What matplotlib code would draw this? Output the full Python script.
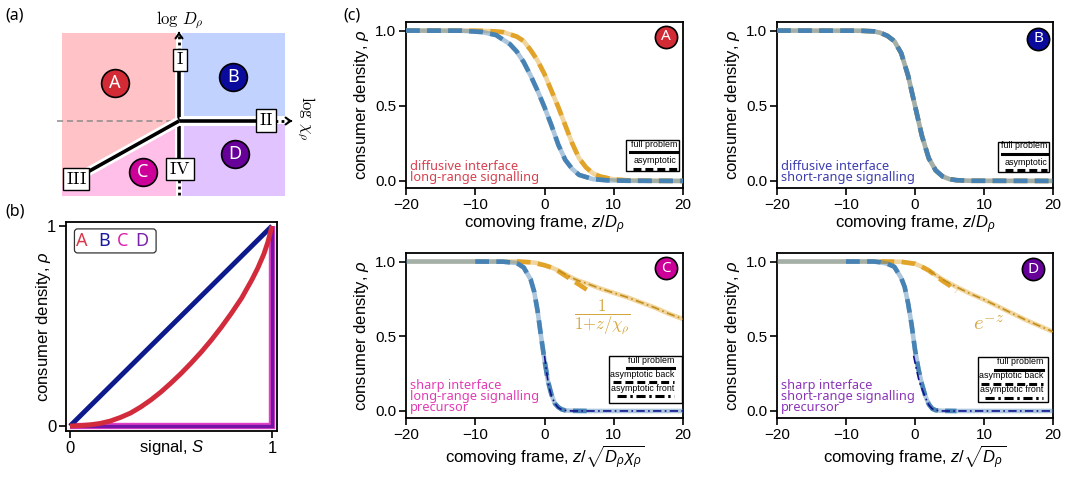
import matplotlib.pyplot as plt
import matplotlib.patches as mpatches
import matplotlib.patheffects as pe
from matplotlib.ticker import FormatStrFormatter
import numpy as np

plt.rcParams['font.family'] = ['Liberation Sans', 'DejaVu Sans']
plt.rcParams['mathtext.fontset'] = 'custom'
plt.rcParams['mathtext.rm'] = 'Liberation Sans'
plt.rcParams['mathtext.it'] = 'Liberation Sans:italic'
plt.rcParams['mathtext.bf'] = 'Liberation Sans:bold'

# ---------------- data ----------------
# (b) response functions rho(S)
S_lin = [0, 1]
rho_lin = [0, 1]
S_A = [0, 0.05, 0.1, 0.15, 0.2, 0.25, 0.3, 0.35, 0.4, 0.45, 0.5, 0.55, 0.6, 0.65, 0.7,
       0.75, 0.8, 0.85, 0.9, 0.93, 0.96, 0.98, 1.0]
rho_A = [0, 0.002, 0.006, 0.013, 0.025, 0.043, 0.065, 0.095, 0.13, 0.17, 0.215, 0.263,
         0.315, 0.37, 0.43, 0.495, 0.565, 0.64, 0.73, 0.79, 0.86, 0.92, 1.0]
S_step = [0, 1, 1]
rho_step = [0, 0, 1]

# (c) panel A
zA_bl = [-20, -12, -9, -7, -5, -4, -3, -2, -1, 0, 1, 2, 3, 4, 5, 7, 9, 12, 20]
rA_bl = [1.0, 0.999, 0.99, 0.97, 0.91, 0.86, 0.79, 0.70, 0.60, 0.49, 0.37, 0.24, 0.14, 0.08, 0.04, 0.012, 0.004, 0.001, 0.0]
zA_or = [-20, -10, -8, -6, -4, -3, -2, -1, 0, 1, 2, 3, 4, 5, 6, 7, 8, 10, 12, 15, 20]
rA_or = [1.0, 0.999, 0.997, 0.99, 0.96, 0.93, 0.87, 0.80, 0.71, 0.60, 0.49, 0.37, 0.25, 0.15, 0.09, 0.05, 0.03, 0.01, 0.004, 0.001, 0.0]

# (c) panel B (both profiles coincide)
zB = [-20, -8, -6, -5, -4, -3, -2, -1, 0, 1, 2, 3, 4, 5, 6, 8, 20]
rB_bl = [1.0, 0.999, 0.995, 0.985, 0.965, 0.93, 0.85, 0.70, 0.50, 0.30, 0.15, 0.07, 0.03, 0.012, 0.005, 0.001, 0.0]
rB_or = [1.0, 0.999, 0.995, 0.985, 0.965, 0.93, 0.85, 0.70, 0.50, 0.30, 0.15, 0.07, 0.03, 0.012, 0.005, 0.001, 0.0]

# (c) panel C
zC_bl = [-20, -10, -6, -4, -3, -2, -1.5, -1, -0.5, 0, 0.5, 1, 1.5, 2, 2.5, 3, 4, 6.5, 20]
rC_bl = [1, 1, 0.999, 0.99, 0.96, 0.88, 0.80, 0.67, 0.50, 0.34, 0.20, 0.11, 0.05, 0.025, 0.01, 0.004, 0.001, 0, 0]
zC_bl_front = [0.0, 0.3, 0.6, 1.0, 1.5, 2.0, 2.5, 3.0, 4.0, 20]
rC_bl_front = [0.37, 0.26, 0.17, 0.10, 0.05, 0.022, 0.009, 0.004, 0.0, 0.0]
zC_or = [-20, -4, -2, -1, 0, 1, 2, 3, 4, 5, 6, 8, 10, 12, 14, 16, 18, 20]
rC_or = [1, 1, 0.995, 0.99, 0.975, 0.96, 0.94, 0.915, 0.89, 0.87, 0.855, 0.82, 0.79, 0.76, 0.725, 0.69, 0.65, 0.615]
zC_or_back = [-4, -2, 0, 1, 2, 3, 4, 5, 6, 6.5]
rC_or_back = [1, 0.995, 0.975, 0.96, 0.935, 0.905, 0.875, 0.845, 0.815, 0.80]

# (c) panel D
zD_bl = [-20, -10, -6, -5, -4, -3, -2, -1.5, -1, -0.5, 0, 0.5, 1, 1.5, 2, 2.5, 3, 4, 6, 20]
rD_bl = [1, 1, 1, 0.995, 0.985, 0.965, 0.89, 0.83, 0.72, 0.58, 0.41, 0.28, 0.18, 0.10, 0.045, 0.015, 0.005, 0.001, 0, 0]
zD_bl_front = [-0.2, 0.2, 0.6, 1.0, 1.5, 2.0, 2.5, 3.0, 4.0, 20]
rD_bl_front = [0.37, 0.28, 0.20, 0.15, 0.09, 0.04, 0.014, 0.005, 0.0, 0.0]
zD_or = [-20, -4, -2, 0, 1, 2, 3, 4, 5, 6, 8, 10, 12, 14, 16, 18, 20]
rD_or = [1, 1, 0.998, 0.985, 0.965, 0.94, 0.91, 0.88, 0.855, 0.83, 0.785, 0.745, 0.70, 0.655, 0.61, 0.57, 0.53]
zD_or_back = [-5, -2, 0, 1, 2, 3, 4, 5, 6]
rD_or_back = [1, 0.998, 0.985, 0.965, 0.94, 0.905, 0.87, 0.84, 0.80]

# ranges of the asymptotic approximations
back_C = (-10, 6.5)
back_D = (-10, 6.0)
front_start = 2.0

BLUE = '#4682b4'
GOLD = '#e2a329'
NAVY = '#12128e'
DGOLD = '#c28e1c'
LW = 3.3


def full_line(ax, z, r, c, zo):
    ax.plot(z, r, color=c, alpha=0.45, lw=LW, solid_capstyle='butt', zorder=zo)


def back_line(ax, z, r, c, zo):
    ax.plot(z, r, color=c, lw=LW, ls=(0, (3.0, 1.6)), dash_capstyle='butt', zorder=zo)


def front_line(ax, z, r, c):
    ax.plot(z, r, color=c, lw=1.2, ls=(0, (5, 2, 1, 2)), zorder=7)


def in_range(z, r, lo, hi):
    z = np.asarray(z, float)
    r = np.asarray(r, float)
    m = (z >= lo) & (z <= hi)
    return z[m], r[m]


def style_c(ax, xlabel):
    ax.set_xlim(-20, 20)
    ax.set_ylim(-0.047, 1.057)
    ax.set_xticks([-20, -10, 0, 10, 20])
    ax.set_yticks([0, 0.5, 1.0])
    ax.yaxis.set_major_formatter(FormatStrFormatter('%.1f'))
    ax.tick_params(direction='out', length=5, width=1.2, labelsize=11, pad=2)
    for s in ax.spines.values():
        s.set_linewidth(1.3)
    ax.set_xlabel(xlabel, fontsize=12, labelpad=1)
    ax.set_ylabel(r'consumer density, $\rho$', fontsize=12, labelpad=3)


def badge(ax, x, y, letter, color, ms=16, fs=11, transform=None):
    tr = ax.transAxes if transform is None else transform
    ax.plot([x], [y], 'o', transform=tr, ms=ms, mfc=color, mec='black', mew=1.2,
            clip_on=False, zorder=10)
    ax.text(x, y, letter, transform=tr, color='white', ha='center', va='center',
            fontsize=fs, family='Noto Sans', zorder=11)


def key_box(ax, box, entries, right, top, pitch):
    x0, y0, w, h = box
    ax.add_patch(mpatches.Rectangle((x0, y0), w, h, transform=ax.transAxes, fc='white',
                                    ec='black', lw=1.0, zorder=8))
    for i, (label, ls, xs) in enumerate(entries):
        yt = top - i * pitch
        ax.text(right, yt, label, transform=ax.transAxes, ha='right', va='baseline',
                fontsize=6.4, zorder=9)
        ax.plot([xs, right], [yt - 0.033, yt - 0.033], transform=ax.transAxes, color='black',
                lw=2.2, ls=ls, dash_capstyle='butt', zorder=9)


def note(ax, txt, color):
    ax.text(-19.4, -0.02, txt, ha='left', va='bottom', color=color, fontsize=9.2,
            family='Noto Sans', linespacing=0.8, zorder=9)


fig = plt.figure(figsize=(10.67, 5.01), dpi=100)

# ---------------- (a) phase diagram ----------------
ax_a = fig.add_axes([0, 1 - 215 / 501, 330 / 1067, 215 / 501])
ax_a.set_xlim(0, 330)
ax_a.set_ylim(215, 0)
ax_a.axis('off')
ax_a.add_patch(mpatches.Rectangle((62, 33), 114, 163, fc='#ffc2c6', ec='none'))
ax_a.add_patch(mpatches.Polygon([(62, 185.7), (176, 122.7), (176, 196), (62, 196)],
                                fc='#ffbfe9', ec='none'))
ax_a.add_patch(mpatches.Rectangle((182, 33), 103, 83, fc='#c2d2ff', ec='none'))
ax_a.add_patch(mpatches.Rectangle((182, 124), 103, 72, fc='#e1c4ff', ec='none'))
ax_a.plot([57, 177], [121, 121], color='#8c8c8c', lw=1.1, ls=(0, (4, 2.5)))
stroke = [pe.Stroke(linewidth=6.5, foreground='white'), pe.Normal()]
for xs, ys in [([179, 179], [60, 170]), ([179, 266], [121, 121]), ([179, 76], [121, 178.5])]:
    ax_a.plot(xs, ys, color='black', lw=2.6, solid_capstyle='butt', path_effects=stroke)
ax_a.plot([179, 179], [36, 49], color='black', lw=2, ls=(0, (1, 1.2)))
ax_a.plot([179, 179], [180, 197], color='black', lw=2, ls=(0, (1, 1.2)))
ax_a.plot([275, 288], [121, 121], color='black', lw=2, ls=(0, (1, 1.2)))
ax_a.annotate('', xy=(179, 29), xytext=(179, 36),
              arrowprops=dict(arrowstyle='->,head_length=0.35,head_width=0.25', lw=1.5, color='black'))
ax_a.annotate('', xy=(295, 121), xytext=(288, 121),
              arrowprops=dict(arrowstyle='->,head_length=0.35,head_width=0.25', lw=1.5, color='black'))
for lab, (x, y) in [('I', (180, 60)), ('II', (266, 120.5)), ('III', (76, 179)), ('IV', (180, 169))]:
    ax_a.text(x, y, r'$\mathrm{%s}$' % lab, math_fontfamily='cm', fontsize=13, ha='center',
              va='center', bbox=dict(boxstyle='square,pad=0.15', fc='white', ec='black', lw=1.0))
ax_a.text(180, 20, r'$\log\, D_\rho$', math_fontfamily='cm', fontsize=12, ha='center', va='center')
ax_a.text(306, 118, r'$\log\, \chi_\rho$', math_fontfamily='cm', fontsize=12, ha='center',
          va='center', rotation=-90)
for lab, col, (x, y) in [('A', '#d22b36', (115, 83)), ('B', '#0a0a9c', (233, 77)),
                         ('C', '#cc0099', (143, 172)), ('D', '#660099', (235, 154))]:
    badge(ax_a, x, y, lab, col, ms=20, fs=13, transform=ax_a.transData)

# ---------------- (b) response functions ----------------
ax_b = fig.add_axes([66 / 1067, 1 - 431 / 501, 211 / 1067, 209 / 501])
ax_b.plot(S_step, rho_step, color='#e040c8', lw=4.6, solid_capstyle='butt', solid_joinstyle='miter')
ax_b.plot(S_step, rho_step, color='#7414a4', lw=2.4, solid_capstyle='butt', solid_joinstyle='miter')
ax_b.plot(S_lin, rho_lin, color='#0d1a8c', lw=3.5, solid_capstyle='butt')
ax_b.plot(S_A, rho_A, color='#d22b3c', lw=3.5, solid_capstyle='butt')
ax_b.set_xlim(-0.02, 1.025)
ax_b.set_ylim(-0.025, 1.02)
ax_b.set_xticks([0, 1])
ax_b.set_yticks([0, 1])
ax_b.tick_params(direction='out', length=5, width=1.2, labelsize=12, pad=2)
for s in ax_b.spines.values():
    s.set_linewidth(1.3)
ax_b.set_xlabel(r'signal, $S$', fontsize=12, labelpad=-13)
ax_b.set_ylabel(r'consumer density, $\rho$', fontsize=12, labelpad=-4)
ax_b.add_patch(mpatches.FancyBboxPatch((0.04, 0.852), 0.387, 0.115, transform=ax_b.transAxes,
                                       boxstyle='round,pad=0,rounding_size=0.015',
                                       fc='white', ec='#333333', lw=0.9))
for lab, col, x in [('A', '#d83a4a', 0.074), ('B', '#1a1aa0', 0.18), ('C', '#dd22aa', 0.27),
                    ('D', '#7a22aa', 0.36)]:
    ax_b.text(x, 0.909, lab, transform=ax_b.transAxes, color=col, fontsize=13, family='Noto Sans',
              ha='center', va='center')

# ---------------- (c) travelling profiles ----------------
axA = fig.add_axes([406 / 1067, 1 - 188 / 501, 277 / 1067, 166 / 501])
axB = fig.add_axes([777 / 1067, 1 - 188 / 501, 276 / 1067, 166 / 501])
axC = fig.add_axes([406 / 1067, 1 - 418 / 501, 277 / 1067, 165 / 501])
axD = fig.add_axes([777 / 1067, 1 - 418 / 501, 276 / 1067, 165 / 501])

# A
full_line(axA, zA_or, rA_or, GOLD, 2)
back_line(axA, zA_or, rA_or, GOLD, 3)
full_line(axA, zA_bl, rA_bl, BLUE, 4)
back_line(axA, zA_bl, rA_bl, BLUE, 5)
# B
full_line(axB, zB, rB_or, GOLD, 2)
back_line(axB, zB, rB_or, GOLD, 3)
full_line(axB, zB, rB_bl, BLUE, 4)
back_line(axB, zB, rB_bl, BLUE, 5)
# C
full_line(axC, zC_or, rC_or, GOLD, 2)
back_line(axC, zC_or_back, rC_or_back, GOLD, 3)
full_line(axC, zC_bl, rC_bl, BLUE, 4)
back_line(axC, *in_range(zC_bl, rC_bl, *back_C), BLUE, 5)
front_line(axC, zC_bl_front, rC_bl_front, NAVY)
front_line(axC, *in_range(zC_or, rC_or, front_start, 20), DGOLD)
# D
full_line(axD, zD_or, rD_or, GOLD, 2)
back_line(axD, zD_or_back, rD_or_back, GOLD, 3)
full_line(axD, zD_bl, rD_bl, BLUE, 4)
back_line(axD, *in_range(zD_bl, rD_bl, *back_D), BLUE, 5)
front_line(axD, zD_bl_front, rD_bl_front, NAVY)
front_line(axD, *in_range(zD_or, rD_or, front_start, 20), DGOLD)

style_c(axA, r'comoving frame, $z/D_\rho$')
style_c(axB, r'comoving frame, $z/D_\rho$')
style_c(axC, r'comoving frame, $z/\sqrt{D_\rho\chi_\rho}$')
style_c(axD, r'comoving frame, $z/\sqrt{D_\rho}$')

note(axA, 'diffusive interface\nlong-range signalling', '#d8404f')
note(axB, 'diffusive interface\nshort-range signalling', '#3d3db0')
note(axC, 'sharp interface\nlong-range signalling\nprecursor', '#e23cb4')
note(axD, 'sharp interface\nshort-range signalling\nprecursor', '#8a35b8')

badge(axA, 0.939, 0.91, 'A', '#d22b36')
badge(axB, 0.946, 0.898, 'B', '#0a0a9c')
badge(axC, 0.939, 0.909, 'C', '#cc0099')
badge(axD, 0.928, 0.903, 'D', '#660099')

solid = '-'
dashed = (0, (2.6, 1.3))
dashdot = (0, (3, 1.2, 0.8, 1.2))
key_box(axA, (0.794, 0.102, 0.192, 0.187), [('full problem', solid, 0.809), ('asymptotic', dashed, 0.82)],
        right=0.978, top=0.249, pitch=0.1)
key_box(axB, (0.80, 0.095, 0.187, 0.185), [('full problem', solid, 0.815), ('asymptotic', dashed, 0.826)],
        right=0.979, top=0.24, pitch=0.1)
key_box(axC, (0.733, 0.091, 0.263, 0.285),
        [('full problem', solid, 0.798), ('asymptotic back', dashed, 0.747), ('asymptotic front', dashdot, 0.76)],
        right=0.969, top=0.335, pitch=0.085)
key_box(axD, (0.728, 0.097, 0.254, 0.273),
        [('full problem', solid, 0.79), ('asymptotic back', dashed, 0.74), ('asymptotic front', dashdot, 0.752)],
        right=0.964, top=0.325, pitch=0.085)

axC.text(8.3, 0.63, r'$\dfrac{1}{1{+}z/\chi_\rho}$', math_fontfamily='cm', fontsize=12,
         color='#d4a53a', ha='center', va='center')
axD.text(10.6, 0.58, r'$e^{-z}$', math_fontfamily='cm', fontsize=15, color='#d4a53a',
         ha='center', va='center')

fig.text(15 / 1067, 1 - 15 / 501, '(a)', fontsize=11.5, family='Noto Sans', ha='center', va='center')
fig.text(15 / 1067, 1 - 211 / 501, '(b)', fontsize=11.5, family='Noto Sans', ha='center', va='center')
fig.text(352 / 1067, 1 - 15 / 501, '(c)', fontsize=11.5, family='Noto Sans', ha='center', va='center')

fig.savefig('out.png', dpi=100)
